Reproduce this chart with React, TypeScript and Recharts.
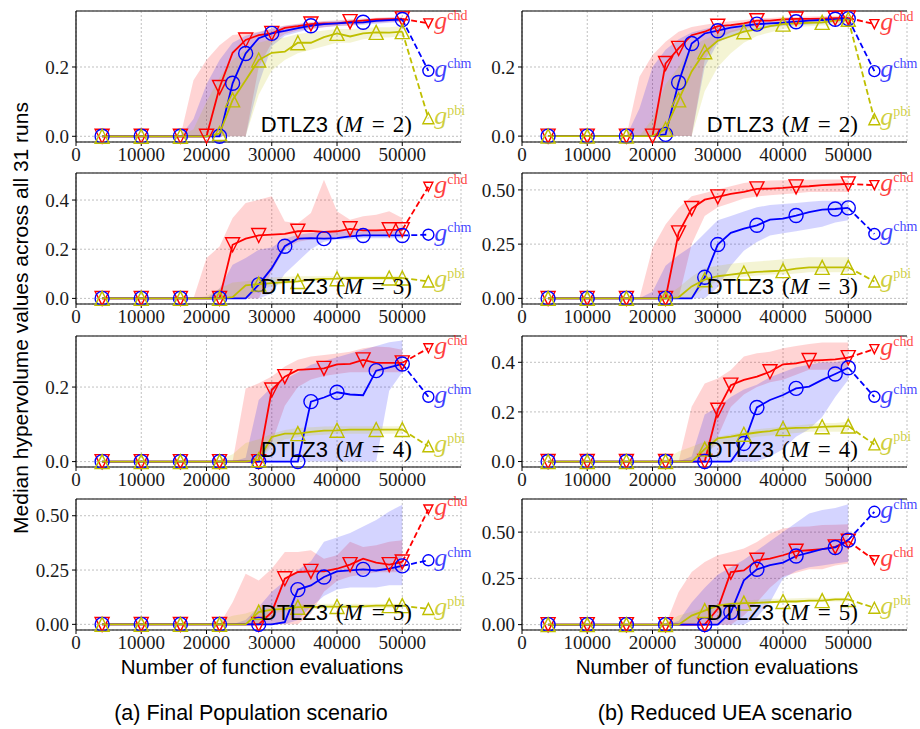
import React from "react";
import { ComposedChart, Line, Area, XAxis, YAxis, CartesianGrid, ReferenceLine } from "recharts";

// evaluation grid of the median curves, and the extra point for the dashed "final" value
const EVALS = [4000, 6000, 8000, 10000, 12000, 14000, 16000, 18000, 20000, 22000, 24000, 26000, 28000, 30000, 32000, 34000, 36000, 38000, 40000, 42000, 44000, 46000, 48000, 50000];
const END_EVAL = 54000;
const X_TICKS = [0, 10000, 20000, 30000, 40000, 50000];

// ---- (a) Final Population, M = 2
const FP2_CHD = [0, 0, 0, 0, 0, 0, 0, 0, 0, 0.141, 0.241, 0.278, 0.292, 0.297, 0.313, 0.318, 0.324, 0.326, 0.326, 0.331, 0.334, 0.337, 0.338, 0.339];
const FP2_CHD_LO = [0, 0, 0, 0, 0, 0, 0, 0, 0, 0, 0, 0, 0.2, 0.27, 0.295, 0.305, 0.31, 0.315, 0.318, 0.32, 0.325, 0.328, 0.33, 0.332];
const FP2_CHD_HI = [0, 0, 0, 0, 0, 0, 0, 0.162, 0.22, 0.263, 0.292, 0.297, 0.302, 0.312, 0.32, 0.325, 0.33, 0.333, 0.335, 0.338, 0.34, 0.342, 0.344, 0.345];
const FP2_CHM = [0, 0, 0, 0, 0, 0, 0, 0, 0, 0, 0.153, 0.239, 0.283, 0.297, 0.304, 0.312, 0.319, 0.324, 0.326, 0.328, 0.329, 0.333, 0.335, 0.337];
const FP2_CHM_LO = [0, 0, 0, 0, 0, 0, 0, 0, 0, 0, 0, 0, 0.15, 0.26, 0.29, 0.3, 0.31, 0.315, 0.318, 0.32, 0.322, 0.325, 0.328, 0.33];
const FP2_CHM_HI = [0, 0, 0, 0, 0, 0, 0, 0.05, 0.15, 0.22, 0.27, 0.29, 0.3, 0.31, 0.318, 0.323, 0.328, 0.331, 0.333, 0.335, 0.337, 0.34, 0.342, 0.343];
const FP2_PBI = [0, 0, 0, 0, 0, 0, 0, 0, 0, 0.008, 0.105, 0.162, 0.22, 0.241, 0.244, 0.27, 0.27, 0.286, 0.297, 0.288, 0.297, 0.3, 0.299, 0.302];
const FP2_PBI_LO = [0, 0, 0, 0, 0, 0, 0, 0, 0, 0, 0, 0, 0.12, 0.19, 0.22, 0.24, 0.25, 0.26, 0.27, 0.27, 0.28, 0.285, 0.285, 0.29];
const FP2_PBI_HI = [0, 0, 0, 0, 0, 0, 0, 0.02, 0.1, 0.17, 0.22, 0.25, 0.27, 0.28, 0.285, 0.295, 0.3, 0.305, 0.31, 0.31, 0.312, 0.315, 0.315, 0.318];
const FP2_END = [0.326, 0.189, 0.052];
const FP2_MARKS = [
  [4000, 10000, 16000, 20000, 22000, 26000, 30000, 36000, 42000, 50000],
  [4000, 10000, 16000, 22000, 24000, 26000, 30000, 36000, 44000, 50000],
  [4000, 10000, 16000, 22000, 24000, 28000, 34000, 40000, 46000, 50000],
];

// ---- (a) Final Population, M = 3
const FP3_CHD = [0, 0, 0, 0, 0, 0, 0, 0, 0, 0, 0.218, 0.243, 0.256, 0.259, 0.262, 0.273, 0.275, 0.27, 0.273, 0.283, 0.277, 0.277, 0.279, 0.279];
const FP3_CHD_LO = [0, 0, 0, 0, 0, 0, 0, 0, 0, 0, 0, 0, 0, 0.11, 0.2, 0.23, 0.24, 0.245, 0.25, 0.25, 0.255, 0.255, 0.26, 0.26];
const FP3_CHD_HI = [0, 0, 0, 0, 0, 0, 0, 0, 0.164, 0.211, 0.327, 0.388, 0.401, 0.415, 0.313, 0.306, 0.347, 0.483, 0.354, 0.32, 0.334, 0.34, 0.354, 0.327];
const FP3_CHM = [0, 0, 0, 0, 0, 0, 0, 0, 0, 0, 0, 0, 0.056, 0.123, 0.212, 0.243, 0.245, 0.243, 0.245, 0.252, 0.256, 0.256, 0.256, 0.256];
const FP3_CHM_LO = [0, 0, 0, 0, 0, 0, 0, 0, 0, 0, 0, 0, 0, 0.02, 0.1, 0.15, 0.2, 0.23, 0.24, 0.24, 0.245, 0.245, 0.245, 0.245];
const FP3_CHM_HI = [0, 0, 0, 0, 0, 0, 0, 0, 0, 0.04, 0.137, 0.164, 0.198, 0.207, 0.243, 0.259, 0.266, 0.273, 0.273, 0.273, 0.273, 0.273, 0.273, 0.273];
const FP3_PBI = [0, 0, 0, 0, 0, 0, 0, 0, 0, 0, 0.005, 0.053, 0.058, 0.062, 0.066, 0.069, 0.076, 0.079, 0.08, 0.083, 0.083, 0.083, 0.083, 0.083];
const FP3_PBI_LO = [0, 0, 0, 0, 0, 0, 0, 0, 0, 0, 0, 0, 0.03, 0.05, 0.06, 0.065, 0.07, 0.072, 0.075, 0.075, 0.075, 0.075, 0.075, 0.075];
const FP3_PBI_HI = [0, 0, 0, 0, 0, 0, 0, 0, 0.01, 0.04, 0.065, 0.07, 0.08, 0.085, 0.088, 0.09, 0.09, 0.09, 0.09, 0.092, 0.092, 0.092, 0.092, 0.092];
const FP3_END = [0.454, 0.259, 0.069];
const FP3_MARKS = [
  [4000, 10000, 16000, 22000, 24000, 28000, 34000, 42000, 48000, 50000],
  [4000, 10000, 16000, 22000, 28000, 32000, 38000, 44000, 50000],
  [4000, 10000, 16000, 22000, 28000, 34000, 40000, 48000, 50000],
];

// ---- (a) Final Population, M = 4
const FP4_CHD = [0, 0, 0, 0, 0, 0, 0, 0, 0, 0, 0, 0, 0, 0.192, 0.228, 0.246, 0.248, 0.25, 0.261, 0.262, 0.273, 0.265, 0.265, 0.265];
const FP4_CHD_LO = [0, 0, 0, 0, 0, 0, 0, 0, 0, 0, 0, 0, 0, 0.05, 0.15, 0.2, 0.22, 0.23, 0.235, 0.24, 0.24, 0.24, 0.24, 0.24];
const FP4_CHD_HI = [0, 0, 0, 0, 0, 0, 0, 0, 0, 0, 0, 0.196, 0.21, 0.228, 0.255, 0.273, 0.282, 0.286, 0.29, 0.295, 0.304, 0.309, 0.307, 0.3];
const FP4_CHM = [0, 0, 0, 0, 0, 0, 0, 0, 0, 0, 0, 0, 0, 0, 0, 0, 0.161, 0.172, 0.186, 0.18, 0.178, 0.244, 0.253, 0.262];
const FP4_CHM_LO = [0, 0, 0, 0, 0, 0, 0, 0, 0, 0, 0, 0, 0, 0, 0, 0, 0, 0, 0, 0, 0, 0, 0.19, 0.24];
const FP4_CHM_HI = [0, 0, 0, 0, 0, 0, 0, 0, 0, 0, 0, 0.01, 0.165, 0.2, 0.22, 0.24, 0.26, 0.27, 0.28, 0.29, 0.3, 0.31, 0.32, 0.325];
const FP4_PBI = [0, 0, 0, 0, 0, 0, 0, 0, 0, 0, 0, 0, 0.005, 0.066, 0.075, 0.075, 0.08, 0.083, 0.084, 0.086, 0.086, 0.086, 0.086, 0.086];
const FP4_PBI_LO = [0, 0, 0, 0, 0, 0, 0, 0, 0, 0, 0, 0, 0, 0.04, 0.06, 0.065, 0.07, 0.072, 0.075, 0.075, 0.075, 0.075, 0.075, 0.075];
const FP4_PBI_HI = [0, 0, 0, 0, 0, 0, 0, 0, 0, 0.005, 0.02, 0.05, 0.06, 0.075, 0.085, 0.09, 0.092, 0.094, 0.095, 0.095, 0.095, 0.095, 0.095, 0.095];
const FP4_END = [0.304, 0.174, 0.041];
const FP4_MARKS = [
  [4000, 10000, 16000, 22000, 28000, 30000, 32000, 38000, 44000, 50000],
  [4000, 10000, 16000, 22000, 28000, 34000, 36000, 40000, 46000, 50000],
  [4000, 10000, 16000, 22000, 28000, 34000, 40000, 46000, 50000],
];

// ---- (a) Final Population, M = 5
const FP5_CHD = [0, 0, 0, 0, 0, 0, 0, 0, 0, 0, 0, 0, 0, 0.056, 0.21, 0.241, 0.244, 0.244, 0.256, 0.275, 0.302, 0.284, 0.275, 0.287];
const FP5_CHD_LO = [0, 0, 0, 0, 0, 0, 0, 0, 0, 0, 0, 0, 0, 0, 0, 0, 0.05, 0.15, 0.2, 0.22, 0.23, 0.24, 0.24, 0.24];
const FP5_CHD_HI = [0, 0, 0, 0, 0, 0, 0, 0, 0, 0, 0.102, 0.233, 0.202, 0.256, 0.333, 0.333, 0.341, 0.302, 0.318, 0.38, 0.356, 0.364, 0.38, 0.387];
const FP5_CHM = [0, 0, 0, 0, 0, 0, 0, 0, 0, 0, 0, 0, 0, 0, 0.01, 0.16, 0.179, 0.218, 0.244, 0.248, 0.253, 0.248, 0.256, 0.269];
const FP5_CHM_LO = [0, 0, 0, 0, 0, 0, 0, 0, 0, 0, 0, 0, 0, 0, 0, 0.02, 0.08, 0.13, 0.16, 0.17, 0.17, 0.17, 0.18, 0.18];
const FP5_CHM_HI = [0, 0, 0, 0, 0, 0, 0, 0, 0, 0, 0, 0.02, 0.08, 0.15, 0.2, 0.25, 0.29, 0.38, 0.4, 0.42, 0.45, 0.48, 0.52, 0.55];
const FP5_PBI = [0, 0, 0, 0, 0, 0, 0, 0, 0, 0, 0, 0, 0.056, 0.068, 0.071, 0.079, 0.079, 0.082, 0.082, 0.082, 0.083, 0.086, 0.086, 0.086];
const FP5_PBI_LO = [0, 0, 0, 0, 0, 0, 0, 0, 0, 0, 0, 0, 0, 0.05, 0.06, 0.065, 0.07, 0.072, 0.075, 0.075, 0.075, 0.075, 0.075, 0.075];
const FP5_PBI_HI = [0, 0, 0, 0, 0, 0, 0, 0, 0, 0.02, 0.04, 0.05, 0.07, 0.08, 0.09, 0.092, 0.094, 0.095, 0.095, 0.095, 0.095, 0.095, 0.095, 0.095];
const FP5_END = [0.529, 0.295, 0.071];
const FP5_MARKS = [
  [4000, 10000, 16000, 22000, 28000, 32000, 36000, 42000, 48000, 50000],
  [4000, 10000, 16000, 22000, 28000, 34000, 38000, 44000, 50000],
  [4000, 10000, 16000, 22000, 28000, 34000, 40000, 48000, 50000],
];

// ---- (b) Reduced UEA, M = 2
const UEA2_CHD = [0, 0, 0, 0, 0, 0, 0, 0, 0, 0.21, 0.254, 0.292, 0.302, 0.318, 0.321, 0.326, 0.334, 0.334, 0.338, 0.339, 0.339, 0.34, 0.341, 0.342];
const UEA2_CHD_LO = [0, 0, 0, 0, 0, 0, 0, 0, 0, 0, 0, 0, 0.22, 0.28, 0.3, 0.31, 0.32, 0.325, 0.328, 0.33, 0.332, 0.333, 0.334, 0.335];
const UEA2_CHD_HI = [0, 0, 0, 0, 0, 0, 0, 0.172, 0.235, 0.273, 0.302, 0.316, 0.322, 0.328, 0.332, 0.336, 0.34, 0.342, 0.344, 0.345, 0.346, 0.347, 0.348, 0.349];
const UEA2_CHM = [0, 0, 0, 0, 0, 0, 0, 0, 0, 0.005, 0.155, 0.268, 0.297, 0.305, 0.314, 0.319, 0.324, 0.326, 0.328, 0.331, 0.334, 0.336, 0.338, 0.34];
const UEA2_CHM_LO = [0, 0, 0, 0, 0, 0, 0, 0, 0, 0, 0, 0, 0.2, 0.27, 0.29, 0.3, 0.31, 0.315, 0.318, 0.32, 0.322, 0.325, 0.328, 0.33];
const UEA2_CHM_HI = [0, 0, 0, 0, 0, 0, 0, 0.08, 0.2, 0.25, 0.28, 0.3, 0.31, 0.318, 0.323, 0.328, 0.331, 0.334, 0.336, 0.338, 0.34, 0.342, 0.344, 0.345];
const UEA2_PBI = [0, 0, 0, 0, 0, 0, 0, 0, 0, 0.02, 0.105, 0.187, 0.244, 0.276, 0.289, 0.302, 0.309, 0.318, 0.324, 0.326, 0.328, 0.329, 0.334, 0.338];
const UEA2_PBI_LO = [0, 0, 0, 0, 0, 0, 0, 0, 0, 0, 0, 0, 0.13, 0.2, 0.24, 0.27, 0.29, 0.3, 0.31, 0.315, 0.318, 0.32, 0.322, 0.325];
const UEA2_PBI_HI = [0, 0, 0, 0, 0, 0, 0, 0, 0.05, 0.15, 0.2, 0.26, 0.28, 0.295, 0.305, 0.315, 0.32, 0.325, 0.33, 0.333, 0.335, 0.338, 0.34, 0.342];
const UEA2_END = [0.324, 0.188, 0.049];
const UEA2_MARKS = [
  [4000, 10000, 16000, 20000, 22000, 24000, 30000, 36000, 42000, 48000, 50000],
  [4000, 10000, 16000, 22000, 24000, 26000, 30000, 36000, 42000, 48000, 50000],
  [4000, 10000, 16000, 22000, 24000, 28000, 34000, 40000, 46000, 50000],
];

// ---- (b) Reduced UEA, M = 3
const UEA3_CHD = [0, 0, 0, 0, 0, 0, 0, 0, 0, 0, 0.302, 0.414, 0.455, 0.468, 0.482, 0.491, 0.505, 0.506, 0.509, 0.514, 0.517, 0.522, 0.525, 0.528];
const UEA3_CHD_LO = [0, 0, 0, 0, 0, 0, 0, 0, 0, 0, 0, 0.25, 0.38, 0.42, 0.44, 0.46, 0.47, 0.475, 0.48, 0.485, 0.49, 0.49, 0.49, 0.49];
const UEA3_CHD_HI = [0, 0, 0, 0, 0, 0, 0, 0, 0.232, 0.34, 0.417, 0.471, 0.486, 0.502, 0.517, 0.532, 0.54, 0.543, 0.545, 0.546, 0.547, 0.548, 0.548, 0.548];
const UEA3_CHM = [0, 0, 0, 0, 0, 0, 0, 0, 0, 0, 0, 0, 0.097, 0.248, 0.302, 0.322, 0.337, 0.363, 0.368, 0.382, 0.398, 0.409, 0.412, 0.417];
const UEA3_CHM_LO = [0, 0, 0, 0, 0, 0, 0, 0, 0, 0, 0, 0, 0, 0.05, 0.15, 0.22, 0.26, 0.29, 0.3, 0.31, 0.32, 0.33, 0.35, 0.36];
const UEA3_CHM_HI = [0, 0, 0, 0, 0, 0, 0, 0, 0.03, 0.15, 0.2, 0.24, 0.3, 0.36, 0.38, 0.4, 0.42, 0.43, 0.435, 0.44, 0.445, 0.45, 0.45, 0.45];
const UEA3_PBI = [0, 0, 0, 0, 0, 0, 0, 0, 0, 0, 0.005, 0.055, 0.086, 0.102, 0.109, 0.117, 0.122, 0.125, 0.128, 0.137, 0.143, 0.143, 0.143, 0.143];
const UEA3_PBI_LO = [0, 0, 0, 0, 0, 0, 0, 0, 0, 0, 0, 0, 0.05, 0.08, 0.09, 0.1, 0.105, 0.11, 0.11, 0.115, 0.12, 0.12, 0.12, 0.12];
const UEA3_PBI_HI = [0, 0, 0, 0, 0, 0, 0, 0, 0, 0.01, 0.05, 0.1, 0.14, 0.15, 0.16, 0.165, 0.17, 0.175, 0.18, 0.185, 0.19, 0.19, 0.19, 0.19];
const UEA3_END = [0.522, 0.297, 0.078];
const UEA3_MARKS = [
  [4000, 10000, 16000, 22000, 24000, 26000, 30000, 36000, 42000, 50000],
  [4000, 10000, 16000, 22000, 28000, 30000, 36000, 42000, 48000, 50000],
  [4000, 10000, 16000, 22000, 28000, 34000, 40000, 46000, 50000],
];

// ---- (b) Reduced UEA, M = 4
const UEA4_CHD = [0, 0, 0, 0, 0, 0, 0, 0, 0, 0, 0, 0, 0, 0.207, 0.308, 0.329, 0.342, 0.362, 0.392, 0.396, 0.407, 0.409, 0.412, 0.419];
const UEA4_CHD_LO = [0, 0, 0, 0, 0, 0, 0, 0, 0, 0, 0, 0, 0, 0.1, 0.22, 0.27, 0.3, 0.32, 0.33, 0.35, 0.37, 0.37, 0.37, 0.37];
const UEA4_CHD_HI = [0, 0, 0, 0, 0, 0, 0, 0, 0, 0, 0, 0.221, 0.315, 0.335, 0.369, 0.423, 0.436, 0.443, 0.457, 0.466, 0.474, 0.48, 0.48, 0.48];
const UEA4_CHM = [0, 0, 0, 0, 0, 0, 0, 0, 0, 0, 0, 0, 0, 0, 0, 0.073, 0.218, 0.248, 0.268, 0.295, 0.302, 0.329, 0.353, 0.378];
const UEA4_CHM_LO = [0, 0, 0, 0, 0, 0, 0, 0, 0, 0, 0, 0, 0, 0, 0, 0, 0, 0.02, 0.05, 0.1, 0.13, 0.18, 0.26, 0.33];
const UEA4_CHM_HI = [0, 0, 0, 0, 0, 0, 0, 0, 0, 0, 0, 0.02, 0.19, 0.22, 0.26, 0.29, 0.31, 0.34, 0.36, 0.38, 0.39, 0.4, 0.4, 0.41];
const UEA4_PBI = [0, 0, 0, 0, 0, 0, 0, 0, 0, 0, 0, 0, 0.05, 0.093, 0.1, 0.11, 0.117, 0.123, 0.133, 0.136, 0.137, 0.14, 0.142, 0.143];
const UEA4_PBI_LO = [0, 0, 0, 0, 0, 0, 0, 0, 0, 0, 0, 0, 0.03, 0.07, 0.08, 0.09, 0.1, 0.105, 0.11, 0.115, 0.12, 0.12, 0.12, 0.12];
const UEA4_PBI_HI = [0, 0, 0, 0, 0, 0, 0, 0, 0, 0.01, 0.04, 0.06, 0.08, 0.1, 0.11, 0.12, 0.13, 0.135, 0.14, 0.145, 0.15, 0.155, 0.155, 0.16];
const UEA4_END = [0.453, 0.261, 0.069];
const UEA4_MARKS = [
  [4000, 10000, 16000, 22000, 28000, 30000, 32000, 38000, 44000, 50000],
  [4000, 10000, 16000, 22000, 28000, 34000, 36000, 42000, 48000, 50000],
  [4000, 10000, 16000, 22000, 28000, 34000, 40000, 46000, 50000],
];

// ---- (b) Reduced UEA, M = 5
const UEA5_CHD = [0, 0, 0, 0, 0, 0, 0, 0, 0, 0, 0, 0, 0, 0.085, 0.284, 0.293, 0.348, 0.357, 0.375, 0.397, 0.402, 0.408, 0.42, 0.451];
const UEA5_CHD_LO = [0, 0, 0, 0, 0, 0, 0, 0, 0, 0, 0, 0, 0, 0, 0, 0.05, 0.12, 0.2, 0.26, 0.28, 0.3, 0.3, 0.32, 0.33];
const UEA5_CHD_HI = [0, 0, 0, 0, 0, 0, 0, 0, 0, 0, 0.176, 0.284, 0.339, 0.375, 0.393, 0.411, 0.447, 0.493, 0.52, 0.529, 0.53, 0.538, 0.54, 0.542];
const UEA5_CHM = [0, 0, 0, 0, 0, 0, 0, 0, 0, 0, 0, 0, 0, 0, 0.067, 0.239, 0.299, 0.321, 0.335, 0.371, 0.389, 0.408, 0.417, 0.457];
const UEA5_CHM_LO = [0, 0, 0, 0, 0, 0, 0, 0, 0, 0, 0, 0, 0, 0, 0, 0, 0.04, 0.12, 0.25, 0.29, 0.31, 0.32, 0.33, 0.34];
const UEA5_CHM_HI = [0, 0, 0, 0, 0, 0, 0, 0, 0, 0, 0.02, 0.12, 0.2, 0.27, 0.31, 0.35, 0.4, 0.45, 0.5, 0.55, 0.6, 0.62, 0.63, 0.65];
const UEA5_PBI = [0, 0, 0, 0, 0, 0, 0, 0, 0, 0, 0, 0.049, 0.076, 0.103, 0.112, 0.116, 0.118, 0.121, 0.125, 0.125, 0.13, 0.13, 0.136, 0.136];
const UEA5_PBI_LO = [0, 0, 0, 0, 0, 0, 0, 0, 0, 0, 0, 0, 0.04, 0.08, 0.1, 0.11, 0.115, 0.118, 0.12, 0.12, 0.122, 0.125, 0.125, 0.125];
const UEA5_PBI_HI = [0, 0, 0, 0, 0, 0, 0, 0, 0, 0.01, 0.05, 0.07, 0.09, 0.11, 0.12, 0.13, 0.135, 0.14, 0.14, 0.142, 0.145, 0.145, 0.145, 0.145];
const UEA5_END = [0.348, 0.61, 0.091];
const UEA5_MARKS = [
  [4000, 10000, 16000, 22000, 28000, 32000, 36000, 42000, 48000, 50000],
  [4000, 10000, 16000, 22000, 28000, 32000, 36000, 42000, 48000, 50000],
  [4000, 10000, 16000, 22000, 28000, 34000, 40000, 46000, 50000],
];

const SANS = "'Liberation Sans', Arial, sans-serif";
const SERIF = "'Liberation Serif', 'DejaVu Serif', serif";

const COL_LEFT = [76, 522];
const ROW_TOP = [11, 173, 336, 499];
const PLOT_W = 385;
const PLOT_H = 131;
const PAD_L = 60;
const PAD_T = 20;

type Kind = "down" | "circle" | "up";

const SERIES: { key: string; color: string; kind: Kind }[] = [
  { key: "chd", color: "#ff0000", kind: "down" },
  { key: "chm", color: "#0000ff", kind: "circle" },
  { key: "pbi", color: "#bfbf00", kind: "up" },
];

interface PanelDef {
  m: number;
  col: number;
  row: number;
  domain: [number, number];
  ticks: number[];
  digits: number;
  series: number[][][]; // [med, lo, hi] per series
  ends: number[];
  marks: number[][];
}

const PANELS: PanelDef[] = [
  { m: 2, col: 0, row: 0, domain: [-0.0165, 0.3616], ticks: [0, 0.2], digits: 1, series: [[FP2_CHD, FP2_CHD_LO, FP2_CHD_HI], [FP2_CHM, FP2_CHM_LO, FP2_CHM_HI], [FP2_PBI, FP2_PBI_LO, FP2_PBI_HI]], ends: FP2_END, marks: FP2_MARKS },
  { m: 3, col: 0, row: 1, domain: [-0.0228, 0.51], ticks: [0, 0.2, 0.4], digits: 1, series: [[FP3_CHD, FP3_CHD_LO, FP3_CHD_HI], [FP3_CHM, FP3_CHM_LO, FP3_CHM_HI], [FP3_PBI, FP3_PBI_LO, FP3_PBI_HI]], ends: FP3_END, marks: FP3_MARKS },
  { m: 4, col: 0, row: 2, domain: [-0.0145, 0.337], ticks: [0, 0.2], digits: 1, series: [[FP4_CHD, FP4_CHD_LO, FP4_CHD_HI], [FP4_CHM, FP4_CHM_LO, FP4_CHM_HI], [FP4_PBI, FP4_PBI_LO, FP4_PBI_HI]], ends: FP4_END, marks: FP4_MARKS },
  { m: 5, col: 0, row: 3, domain: [-0.026, 0.577], ticks: [0, 0.25, 0.5], digits: 2, series: [[FP5_CHD, FP5_CHD_LO, FP5_CHD_HI], [FP5_CHM, FP5_CHM_LO, FP5_CHM_HI], [FP5_PBI, FP5_PBI_LO, FP5_PBI_HI]], ends: FP5_END, marks: FP5_MARKS },
  { m: 2, col: 1, row: 0, domain: [-0.017, 0.362], ticks: [0, 0.2], digits: 1, series: [[UEA2_CHD, UEA2_CHD_LO, UEA2_CHD_HI], [UEA2_CHM, UEA2_CHM_LO, UEA2_CHM_HI], [UEA2_PBI, UEA2_PBI_LO, UEA2_PBI_HI]], ends: UEA2_END, marks: UEA2_MARKS },
  { m: 3, col: 1, row: 1, domain: [-0.026, 0.578], ticks: [0, 0.25, 0.5], digits: 2, series: [[UEA3_CHD, UEA3_CHD_LO, UEA3_CHD_HI], [UEA3_CHM, UEA3_CHM_LO, UEA3_CHM_HI], [UEA3_PBI, UEA3_PBI_LO, UEA3_PBI_HI]], ends: UEA3_END, marks: UEA3_MARKS },
  { m: 4, col: 1, row: 2, domain: [-0.022, 0.506], ticks: [0, 0.2, 0.4], digits: 1, series: [[UEA4_CHD, UEA4_CHD_LO, UEA4_CHD_HI], [UEA4_CHM, UEA4_CHM_LO, UEA4_CHM_HI], [UEA4_PBI, UEA4_PBI_LO, UEA4_PBI_HI]], ends: UEA4_END, marks: UEA4_MARKS },
  { m: 5, col: 1, row: 3, domain: [-0.029, 0.679], ticks: [0, 0.25, 0.5], digits: 2, series: [[UEA5_CHD, UEA5_CHD_LO, UEA5_CHD_HI], [UEA5_CHM, UEA5_CHM_LO, UEA5_CHM_HI], [UEA5_PBI, UEA5_PBI_LO, UEA5_PBI_HI]], ends: UEA5_END, marks: UEA5_MARKS },
];

function buildRows(p: PanelDef) {
  const rows: any[] = EVALS.map((x, i) => {
    const row: any = { x };
    SERIES.forEach((s, k) => {
      const [med, lo, hi] = p.series[k];
      row[s.key] = med[i];
      row[s.key + "Band"] = [lo[i], hi[i]];
      if (i === EVALS.length - 1) row[s.key + "End"] = med[i];
    });
    return row;
  });
  const last: any = { x: END_EVAL };
  SERIES.forEach((s, k) => (last[s.key + "End"] = p.ends[k]));
  rows.push(last);
  return rows;
}

function MarkerShape({ kind, cx, cy, s, color }: { kind: Kind; cx: number; cy: number; s: number; color: string }) {
  if (kind === "circle") {
    return <circle cx={cx} cy={cy} r={s} fill="none" stroke={color} strokeWidth={1.4} />;
  }
  const d =
    kind === "down"
      ? `M${cx - s},${cy - s}L${cx + s},${cy - s}L${cx},${cy + s}Z`
      : `M${cx - s},${cy + s}L${cx + s},${cy + s}L${cx},${cy - s}Z`;
  return <path d={d} fill="none" stroke={color} strokeWidth={1.4} strokeLinejoin="miter" />;
}

const mainDot = (marks: number[], kind: Kind, color: string) => (props: any) => {
  const { cx, cy, payload, index } = props;
  if (cx == null || cy == null || !payload || !marks.includes(payload.x)) return <g key={`d${index}`} />;
  return (
    <g key={`d${index}`}>
      <MarkerShape kind={kind} cx={cx} cy={cy} s={7} color={color} />
    </g>
  );
};

const endDot = (kind: Kind, color: string, name: string) => (props: any) => {
  const { cx, cy, payload, index } = props;
  if (cx == null || cy == null || !payload || payload.x !== END_EVAL) return <g key={`e${index}`} />;
  return (
    <g key={`e${index}`}>
      <MarkerShape kind={kind} cx={cx} cy={cy} s={kind === "down" ? 4.5 : 5.5} color={color} />
      <text x={cx + 6} y={cy + 6} fill={color} fillOpacity={0.75} style={{ fontFamily: SERIF }}>
        <tspan style={{ fontStyle: "italic", fontSize: 26 }}>g</tspan>
        <tspan style={{ fontSize: 14 }} dy={-9}>{name}</tspan>
      </text>
    </g>
  );
};

function XTick(props: any) {
  const { x, y, payload } = props;
  return (
    <text x={x} y={y} dy="0.71em" textAnchor="middle" fill="#1a1a1a" style={{ fontFamily: SERIF, fontSize: 19 }}>
      {payload.value}
    </text>
  );
}

const yTick = (digits: number) => (props: any) => {
  const { x, y, payload } = props;
  return (
    <text x={x} y={y} dy="0.355em" textAnchor="end" fill="#1a1a1a" style={{ fontFamily: SERIF, fontSize: 19 }}>
      {Number(payload.value).toFixed(digits)}
    </text>
  );
};

function Panel({ p }: { p: PanelDef }) {
  const rows = buildRows(p);
  const left = COL_LEFT[p.col];
  const top = ROW_TOP[p.row];
  return (
    <>
      <div style={{ position: "absolute", left: left - PAD_L, top: top - PAD_T }}>
        <ComposedChart
          width={PAD_L + PLOT_W + 20}
          height={PAD_T + PLOT_H + 30}
          data={rows}
          margin={{ top: PAD_T, right: 20, bottom: 0, left: 0 }}
        >
          <CartesianGrid stroke="#b0b0b0" strokeDasharray="2 2" strokeWidth={0.8} />
          <XAxis
            type="number"
            dataKey="x"
            domain={[0, 59000]}
            ticks={X_TICKS}
            interval={0}
            height={30}
            tick={<XTick />}
            tickSize={4}
            tickMargin={2}
            stroke="#000"
            axisLine={{ stroke: "#000", strokeWidth: 1.2 }}
          />
          <YAxis
            type="number"
            domain={p.domain}
            ticks={p.ticks}
            interval={0}
            width={PAD_L}
            tick={yTick(p.digits)}
            tickSize={4}
            tickMargin={3}
            stroke="#000"
            axisLine={{ stroke: "#000", strokeWidth: 1.2 }}
          />
          <ReferenceLine y={p.domain[1]} stroke="#555" strokeWidth={1.6} />
          {SERIES.map((s) => (
            <Area
              key={s.key + "Band"}
              dataKey={s.key + "Band"}
              type="linear"
              stroke="none"
              fill={s.color}
              fillOpacity={0.17}
              isAnimationActive={false}
              activeDot={false}
            />
          ))}
          {SERIES.map((s, k) => (
            <Line
              key={s.key}
              dataKey={s.key}
              type="linear"
              stroke={s.color}
              strokeWidth={1.8}
              dot={mainDot(p.marks[k], s.kind, s.color)}
              activeDot={false}
              isAnimationActive={false}
            />
          ))}
          {SERIES.map((s) => (
            <Line
              key={s.key + "End"}
              dataKey={s.key + "End"}
              type="linear"
              stroke={s.color}
              strokeWidth={1.8}
              strokeDasharray="6 3"
              dot={endDot(s.kind, s.color, s.key)}
              activeDot={false}
              isAnimationActive={false}
            />
          ))}
        </ComposedChart>
      </div>
      <div
        style={{
          position: "absolute",
          left,
          top: top + PLOT_H - 30,
          width: 336,
          textAlign: "right",
          fontSize: 22,
          lineHeight: "26px",
          whiteSpace: "nowrap",
          color: "#000",
        }}
      >
        <span style={{ fontFamily: SANS }}>DTLZ3</span>
        <span style={{ fontFamily: SERIF, fontSize: 23, marginLeft: 8 }}>
          (<i style={{ marginRight: 1 }}>M</i>
          <span style={{ margin: "0 8px" }}>=</span>
          {p.m})
        </span>
      </div>
    </>
  );
}

export default function App() {
  return (
    <div
      style={{
        position: "absolute",
        left: 0,
        top: 0,
        width: 920,
        height: 729,
        background: "#fff",
        fontFamily: SANS,
        overflow: "hidden",
      }}
    >
      {PANELS.map((p, i) => (
        <Panel key={i} p={p} />
      ))}
      <div
        style={{
          position: "absolute",
          left: 21 - 260,
          top: 318 - 13,
          width: 520,
          lineHeight: "26px",
          textAlign: "center",
          fontSize: 21,
          transform: "rotate(-90deg)",
          whiteSpace: "nowrap",
        }}
      >
        Median hypervolume values across all 31 runs
      </div>
      {[262, 717].map((cx) => (
        <div
          key={"xt" + cx}
          style={{ position: "absolute", left: cx - 200, top: 667 - 13, width: 400, textAlign: "center", fontSize: 20.5, lineHeight: "26px" }}
        >
          Number of function evaluations
        </div>
      ))}
      <div style={{ position: "absolute", left: 251 - 200, top: 713 - 13, width: 400, textAlign: "center", fontSize: 21.5, lineHeight: "26px" }}>
        (a) Final Population scenario
      </div>
      <div style={{ position: "absolute", left: 725 - 200, top: 713 - 13, width: 400, textAlign: "center", fontSize: 21.5, lineHeight: "26px" }}>
        (b) Reduced UEA scenario
      </div>
    </div>
  );
}
